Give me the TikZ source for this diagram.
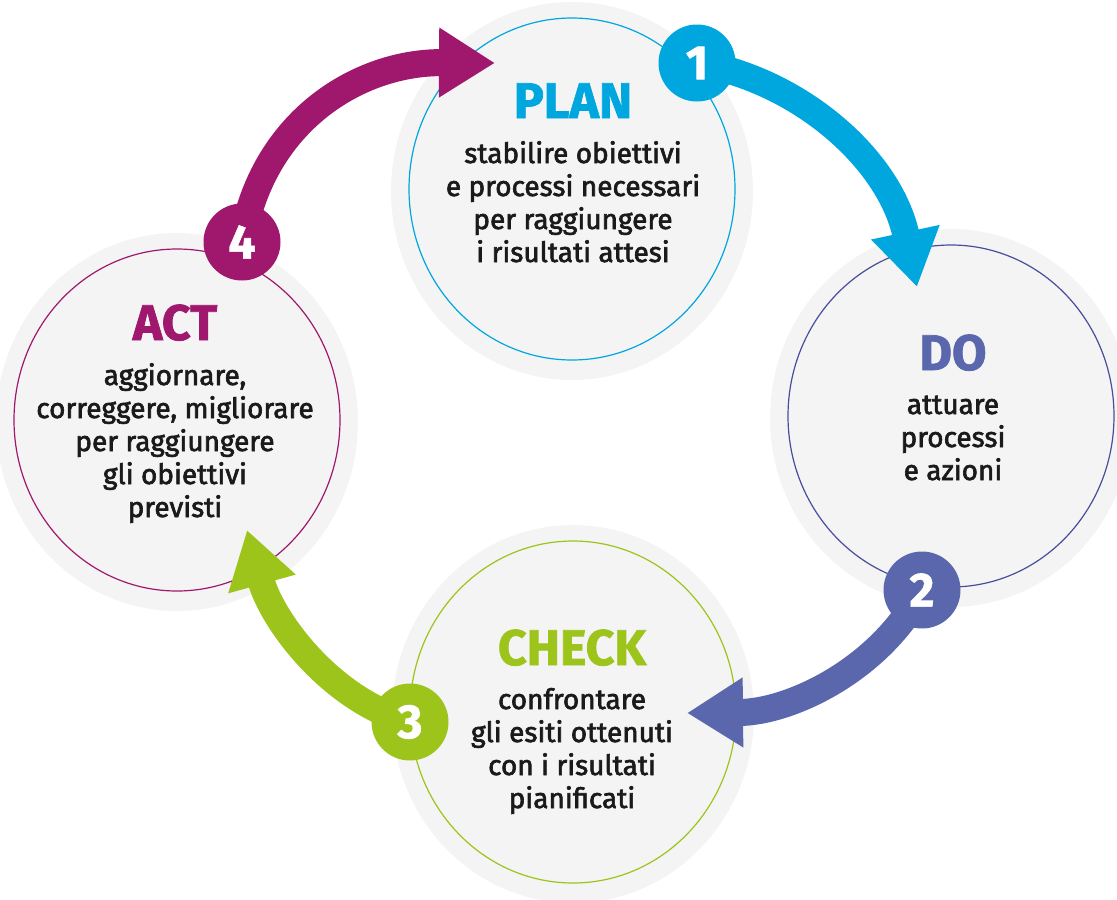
\documentclass[tikz,border=0pt]{standalone}
\usepackage{fontspec}
\setmainfont{Fira Sans}
\usetikzlibrary{arrows.meta,shapes.geometric}
\definecolor{cplan}{RGB}{0,166,222}
\definecolor{cdo}{RGB}{91,103,173}
\definecolor{cdoline}{RGB}{72,78,155}
\definecolor{ccheck}{RGB}{157,196,26}
\definecolor{cact}{RGB}{160,24,110}
\definecolor{halo}{RGB}{244,244,244}
\definecolor{ink}{RGB}{26,26,26}
\begin{document}
\begin{tikzpicture}[x=1pt,y=-1pt,
  halobox/.style={ellipse,fill=halo,draw=none,inner sep=0pt,outer sep=0pt,minimum width=362pt,minimum height=378pt},
  ring/.style={ellipse,fill=halo,draw=#1,line width=1.2pt,inner sep=0pt,outer sep=0pt,minimum width=326pt,minimum height=342pt},
  ttl/.style={anchor=base,inner sep=0pt,text=#1,font=\addfontfeatures{FakeBold=1.5}\bfseries\fontsize{50}{50}\selectfont},
  bodytxt/.style={anchor=base,inner sep=0pt,align=center,text=ink,font=\addfontfeatures{FakeBold=2.2}\fontsize{28}{33}\selectfont},
  badge/.style={circle,fill=#1,inner sep=0pt,minimum size=77pt,text=white,font=\addfontfeatures{FakeBold=1.2}\bfseries\fontsize{48}{48}\selectfont},
  flow/.style={draw=#1,line width=27pt,-{Triangle[length=56pt,width=66pt]}}]
\useasboundingbox (0,0) rectangle (1117,900);
% halos
\node[halobox] (hplan) at (572,191) {};
\node[halobox] (hdo) at (951,418) {};
\node[halobox] (hact) at (177,422) {};
\node[halobox] (hcheck) at (573,714) {};
% rings
\node[ring=cplan] (plan) at (572,189) {};
\node[ring=cdoline] (do) at (951,416) {};
\node[ring=cact] (act) at (177,420) {};
\node[ring=ccheck] (check) at (573,712) {};
% titles (anchored at baseline)
\node[ttl=cplan] (plant) at (573,118) {PLAN};
\node[ttl=cdo] (dot) at (953,370) {DO};
\node[ttl=cact] (actt) at (175,340) {ACT};
\node[ttl=ccheck] (checkt) at (572,665) {CHECK};
% bodies (anchored at baseline of the last line)
\node[bodytxt] (planb) at (573,262) {stabilire obiettivi\\e processi necessari\\per raggiungere\\i risultati attesi};
\node[bodytxt] (dob) at (953,480) {attuare\\processi\\e azioni};
\node[bodytxt] (actb) at (175,517) {aggiornare,\\correggere, migliorare\\per raggiungere\\gli obiettivi\\previsti};
\node[bodytxt] (checkb) at (572,808) {confrontare\\gli esiti ottenuti\\con i risultati\\pianificati};
% badge positions
\coordinate (p1) at (697,63);
\coordinate (p2) at (922,590);
\coordinate (p3) at (410,722);
\coordinate (p4) at (242,242);
% arrow tips
\coordinate (t1) at (917,287);
\coordinate (t2) at (687,713);
\coordinate (t3) at (247,530);
\coordinate (t4) at (495,63);
% arrows
\draw[flow=cplan] (p1) .. controls (800,80) and (890,160) .. (t1);
\draw[flow=cdo] (p2) .. controls (880,670) and (790,712) .. (t2);
\draw[flow=ccheck] (p3) .. controls (330,700) and (272,620) .. (t3);
\draw[flow=cact] (p4) .. controls (262,120) and (360,62) .. (t4);
% badges
\node[badge=cplan] (b1) at (p1) {1};
\node[badge=cdo] (b2) at (p2) {2};
\node[badge=ccheck] (b3) at (p3) {3};
\node[badge=cact] (b4) at (p4) {4};
\end{tikzpicture}
\end{document}
